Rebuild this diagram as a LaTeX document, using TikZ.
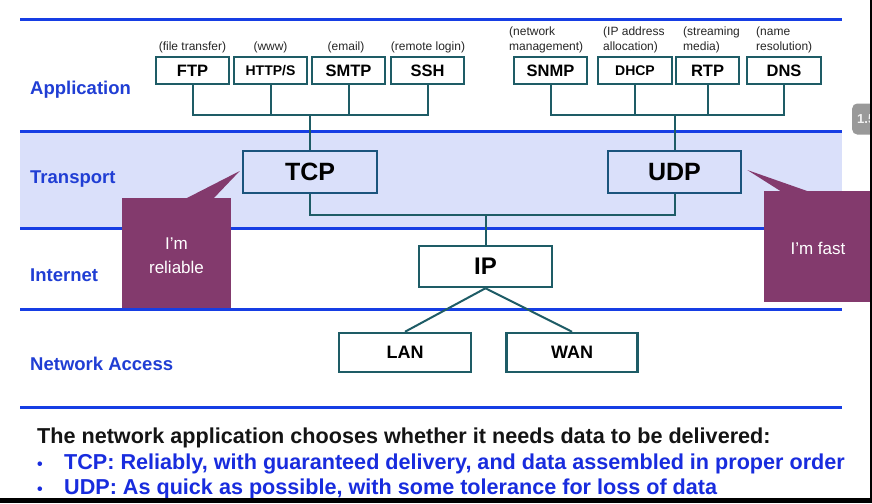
\documentclass[tikz,border=0pt]{standalone}
\usepackage{fontspec}
\setmainfont{Liberation Sans}
\usetikzlibrary{calc}
\definecolor{lineblue}{RGB}{22,62,228}
\definecolor{labelblue}{RGB}{32,62,212}
\definecolor{bandfill}{RGB}{218,224,250}
\definecolor{boxteal}{RGB}{30,92,102}
\definecolor{boxblue}{RGB}{26,84,124}
\definecolor{calloutpurple}{RGB}{131,58,109}
\definecolor{textblue}{RGB}{24,44,222}
\begin{document}
\begin{tikzpicture}[x=1pt,y=-1pt,
  layerline/.style={draw=lineblue, line width=3pt},
  layerlabel/.style={text=labelblue, font=\bfseries\fontsize{18.5}{20}\selectfont, anchor=west, inner sep=0pt},
  appbox/.style={draw=boxteal, line width=2pt, fill=white, minimum height=27pt, inner sep=0pt, font=\bfseries\fontsize{16.5}{18}\selectfont},
  bigbox/.style={draw=boxblue, line width=2.5pt, minimum height=42pt, minimum width=133pt, inner sep=0pt, font=\bfseries\fontsize{25}{27}\selectfont},
  lowbox/.style={draw=boxteal, line width=2.5pt, fill=white, minimum height=39pt, minimum width=132pt, inner sep=0pt, font=\bfseries\fontsize{18}{20}\selectfont},
  conn/.style={draw=boxteal, line width=2pt},
  note/.style={font=\fontsize{12}{14.5}\selectfont, align=left, inner sep=0pt, text=black!85},
  callout/.style={fill=calloutpurple, text=white, font=\fontsize{17}{24}\selectfont, align=center, inner sep=0pt},
  bottomtext/.style={font=\bfseries\fontsize{21.6}{24}\selectfont, anchor=base west, inner sep=0pt}
]
\useasboundingbox (0,0) rectangle (872,503);
\clip (0,0) rectangle (872,503);
\fill[white] (0,0) rectangle (872,503);

% transport band and layer lines
\fill[bandfill] (20,131) rectangle (842,228);
\foreach \yy in {20,131,228,309,407}
  \draw[layerline] (20,\yy) -- (842,\yy);

% layer labels
\node[layerlabel] (lapp) at (30,90) {Application};
\node[layerlabel] (ltra) at (30,179) {Transport};
\node[layerlabel] (lint) at (30,275) {Internet};
\node[layerlabel] (lnet) at (30,364) {Network Access};

\coordinate (lbus) at (310,115);
\coordinate (rbus) at (674.5,115);
\coordinate (mbus) at (485.5,215);

% application boxes
\node[appbox, minimum width=73pt] (ftp)  at (192.5,70.5) {FTP};
\node[appbox, minimum width=73pt, font=\bfseries\fontsize{14}{16}\selectfont] (http) at (270.5,70.5) {HTTP/S};
\node[appbox, minimum width=73pt] (smtp) at (348.5,70.5) {SMTP};
\node[appbox, minimum width=73pt] (ssh)  at (427.5,70.5) {SSH};
\node[appbox, minimum width=73pt] (snmp) at (550.5,70.5) {SNMP};
\node[appbox, minimum width=74pt, font=\bfseries\fontsize{14}{16}\selectfont] (dhcp) at (635,70.5) {DHCP};
\node[appbox, minimum width=63pt] (rtp)  at (707.5,70.5) {RTP};
\node[appbox, minimum width=74pt] (dns)  at (784,70.5) {DNS};

% notes
\node[note] (nftp)  at (192.5,47) {(file transfer)};
\node[note] (nhttp) at (270.5,47) {(www)};
\node[note] (nsmtp) at (346,47) {(email)};
\node[note] (nssh)  at (428,47) {(remote login)};
\node[note, anchor=west] (nsnmp) at (509,40) {(network\\management)};
\node[note, anchor=west] (ndhcp) at (603,40) {(IP address\\allocation)};
\node[note, anchor=west] (nrtp)  at (683,40) {(streaming\\media)};
\node[note, anchor=west] (ndns)  at (756,40) {(name\\resolution)};

% transport / internet / access boxes
\node[bigbox, minimum width=134pt] (tcp) at (310,172) {TCP};
\node[bigbox] (udp) at (674.5,172) {UDP};
\node[bigbox, draw=boxteal, fill=white, minimum height=41pt, font=\bfseries\fontsize{24}{26}\selectfont] (ip) at (485.5,266.5) {IP};
\node[lowbox] (lan) at (405,352.5) {LAN};
\node[lowbox, minimum width=131pt] (wan) at (572,352.5) {WAN};

% connectors
\draw[conn] (ftp.south) -- (ftp.south |- lbus) -- (ssh.south |- lbus) -- (ssh.south);
\draw[conn] (http.south) -- (http.south |- lbus);
\draw[conn] (smtp.south) -- (smtp.south |- lbus);
\draw[conn] (lbus) -- (tcp.north);
\draw[conn] (snmp.south) -- (snmp.south |- rbus) -- (dns.south |- rbus) -- (dns.south);
\draw[conn] (dhcp.south) -- (dhcp.south |- rbus);
\draw[conn] (rtp.south) -- (rtp.south |- rbus);
\draw[conn] (rbus) -- (udp.north);
\draw[conn] (tcp.south) -- (tcp.south |- mbus) -- (udp.south |- mbus) -- (udp.south);
\draw[conn] (mbus) -- (ip.north);
\draw[conn] (ip.south) -- (lan.north);
\draw[conn] (ip.south) -- (wan.north);

% callouts
\node[callout, minimum width=109pt, minimum height=110pt] (reliable) at (176.5,253) {};
\node[callout, fill=none] (reliabletext) at (176.5,256) {I\symbol{39}m\\reliable};
\fill[calloutpurple] (185,199) -- ($(tcp.west)+(-2,-1)$) -- (213,199) -- cycle;
\node[callout, minimum width=108pt, minimum height=111pt] (fast) at (818,246.5) {};
\node[callout, fill=none] (fasttext) at (818,248) {I\symbol{39}m fast};
\fill[calloutpurple] (782,192) -- ($(udp.east)+(5,-2)$) -- (810,192) -- cycle;

% bottom text
\node[bottomtext, text=black!92] (t0) at (37,443) {The network application chooses whether it needs data to be delivered:};
\node[bottomtext, text=textblue] (b1) at (37,469) {\fontsize{16}{18}\selectfont\textbullet};
\node[bottomtext, text=textblue] (t1) at (64,469) {TCP: Reliably, with guaranteed delivery, and data assembled in proper order};
\node[bottomtext, text=textblue] (b2) at (37,494) {\fontsize{16}{18}\selectfont\textbullet};
\node[bottomtext, text=textblue] (t2) at (64,494) {UDP: As quick as possible, with some tolerance for loss of data};

% player overlay and frame edges
\node[fill=black!40, rounded corners=5pt, text=white!90!gray, font=\bfseries\fontsize{13}{15}\selectfont, anchor=west, minimum height=31pt, inner sep=5pt] (speed) at (852,119) {1.5};
\fill[black] (869.5,0) rectangle (872,503);
\fill[black] (0,498) rectangle (872,503);
\end{tikzpicture}
\end{document}
